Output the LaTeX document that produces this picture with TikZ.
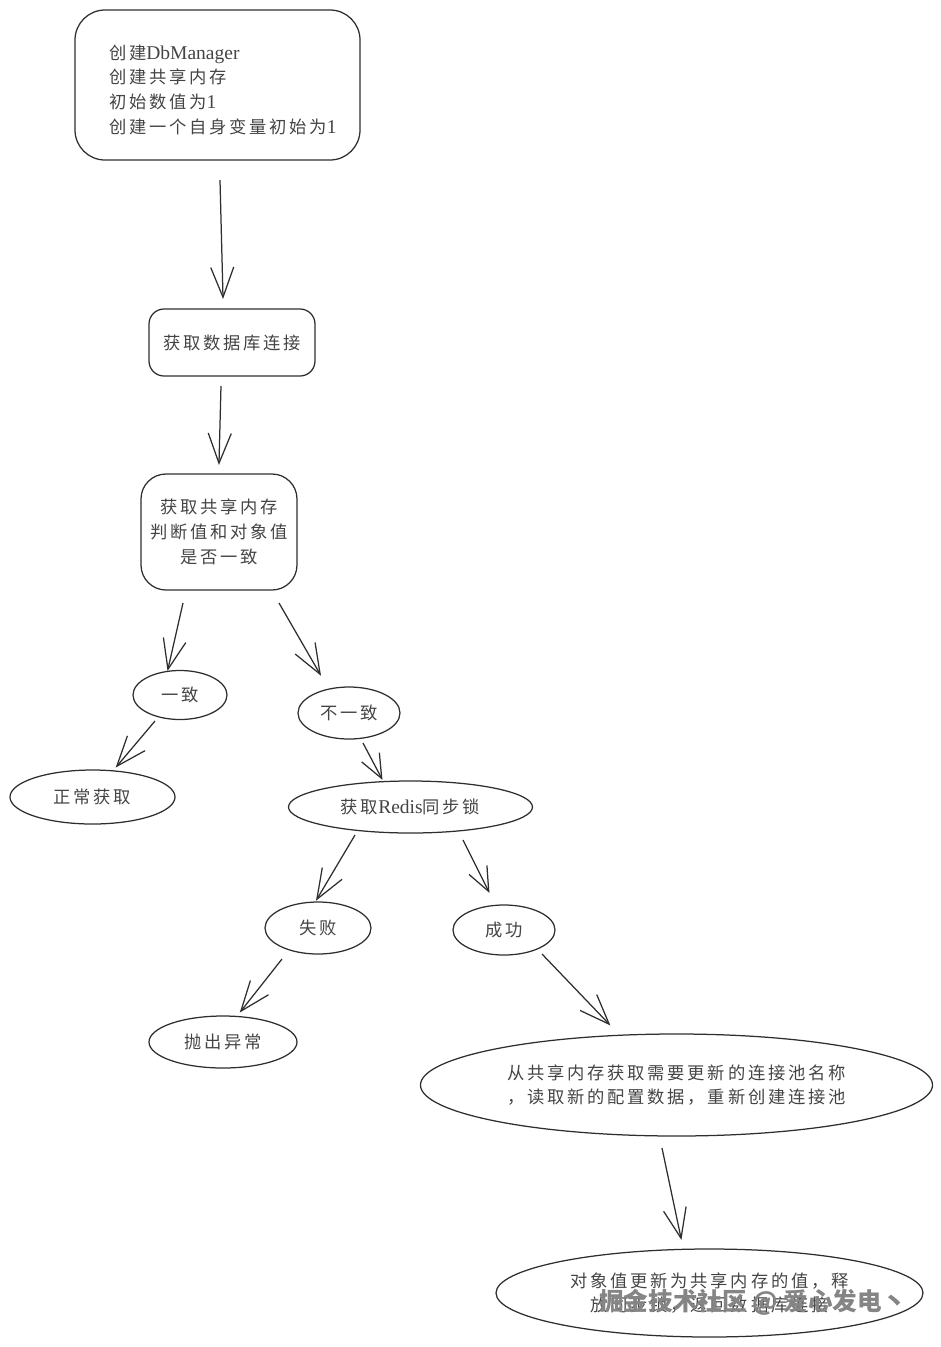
\documentclass[tikz,border=0pt]{standalone}
\usepackage{fontspec}
\setmainfont{Liberation Serif}
\newfontfamily\cjk[LetterSpace=16]{Noto Sans CJK SC}
\newfontfamily\markfont{Noto Sans CJK SC}
\usetikzlibrary{shapes.geometric,arrows.meta}
\definecolor{ink}{HTML}{2E2E2E}
\definecolor{txt}{HTML}{444444}
\definecolor{wmark}{HTML}{858585}
\tikzset{
  base/.style={draw=ink,line width=1.25pt,text=txt,inner sep=0pt,align=center,font=\cjk\fontsize{17.3}{24.7}\selectfont},
  rbox/.style={base,rectangle},
  oval/.style={base,ellipse},
  flow/.style={draw=ink,line width=1.25pt,shorten >=-2pt,-{Straight Barb[length=30pt,width=23pt,line width=1.25pt]}},
  flowm/.style={draw=ink,line width=1.25pt,shorten >=-1pt,-{Straight Barb[length=24pt,width=20pt,line width=1.25pt]}},
}
\newcommand{\lat}[1]{{\rmfamily\fontsize{19.5}{24.7}\selectfont #1}}
\newcommand{\ind}{\hspace*{34pt}}
\begin{document}
\begin{tikzpicture}[x=1pt,y=-1pt]
\useasboundingbox (0,0) rectangle (941,1347);
\node[rbox,rounded corners=30pt,minimum width=285pt,minimum height=150pt,text width=285pt,align=left] (dbm) at (217.5,85)
  {\ind\rule{0pt}{24pt}创建\lat{DbManager}\\\ind 创建共享内存\\\ind 初始数值为\lat{1}\\\ind 创建一个自身变量初始为\lat{1}};
\node[rbox,rounded corners=15pt,minimum width=166pt,minimum height=67pt] (conn) at (232,342.5) {获取数据库连接};
\node[rbox,rounded corners=25pt,minimum width=156pt,minimum height=116pt] (shm) at (219,532) {获取共享内存\\判断值和对象值\\是否一致};
\node[oval,minimum width=94pt,minimum height=49pt] (same) at (180,695) {一致};
\node[oval,minimum width=102pt,minimum height=52pt] (diff) at (349,713) {不一致};
\node[oval,minimum width=165pt,minimum height=54pt] (normal) at (92.5,797) {正常获取};
\node[oval,minimum width=244pt,minimum height=52pt] (lock) at (410.5,807) {获取\lat{Redis}同步锁};
\node[oval,minimum width=106pt,minimum height=52pt] (fail) at (318,928) {失败};
\node[oval,minimum width=102pt,minimum height=50pt] (ok) at (504,930) {成功};
\node[oval,minimum width=148pt,minimum height=52pt] (throw) at (223,1042) {抛出异常};
\node[oval,minimum width=512pt,minimum height=102pt] (update) at (676.5,1085) {从共享内存获取需要更新的连接池名称\\，读取新的配置数据，重新创建连接池};
\node[oval,minimum width=427pt,minimum height=88pt] (final) at (709.5,1293) {对象值更新为共享内存的值，释\\放同步锁，返回数据库连接};
\node[text=wmark,inner sep=0pt,font=\markfont\bfseries\fontsize{24.6}{28}\selectfont] (mark) at (753,1302) {掘金技术社区 @ 爱心发电丶};

\coordinate (a1) at (220,180);
\coordinate (b1) at (223,297);
\coordinate (a2) at (221,386);
\coordinate (b2) at (219,463);
\coordinate (a3) at (183,603);
\coordinate (b3) at (168,669);
\coordinate (a4) at (279,603);
\coordinate (b4) at (320,674);
\coordinate (a5) at (155,721);
\coordinate (b5) at (117,766);
\coordinate (a6) at (363,743);
\coordinate (b6) at (382,779);
\coordinate (a7) at (355,835);
\coordinate (b7) at (317,899);
\coordinate (a8) at (463,840);
\coordinate (b8) at (489,892);
\coordinate (a9) at (282,959);
\coordinate (b9) at (241,1011);
\coordinate (a10) at (542,954);
\coordinate (b10) at (609,1024);
\coordinate (a11) at (662,1148);
\coordinate (b11) at (681,1238);
\draw[flow] (a1) -- (b1);
\draw[flow] (a2) -- (b2);
\draw[flow] (a3) -- (b3);
\draw[flow] (a4) -- (b4);
\draw[flow] (a5) -- (b5);
\draw[flowm] (a6) -- (b6);
\draw[flow] (a7) -- (b7);
\draw[flowm] (a8) -- (b8);
\draw[flow] (a9) -- (b9);
\draw[flow] (a10) -- (b10);
\draw[flow] (a11) -- (b11);
\end{tikzpicture}
\end{document}
